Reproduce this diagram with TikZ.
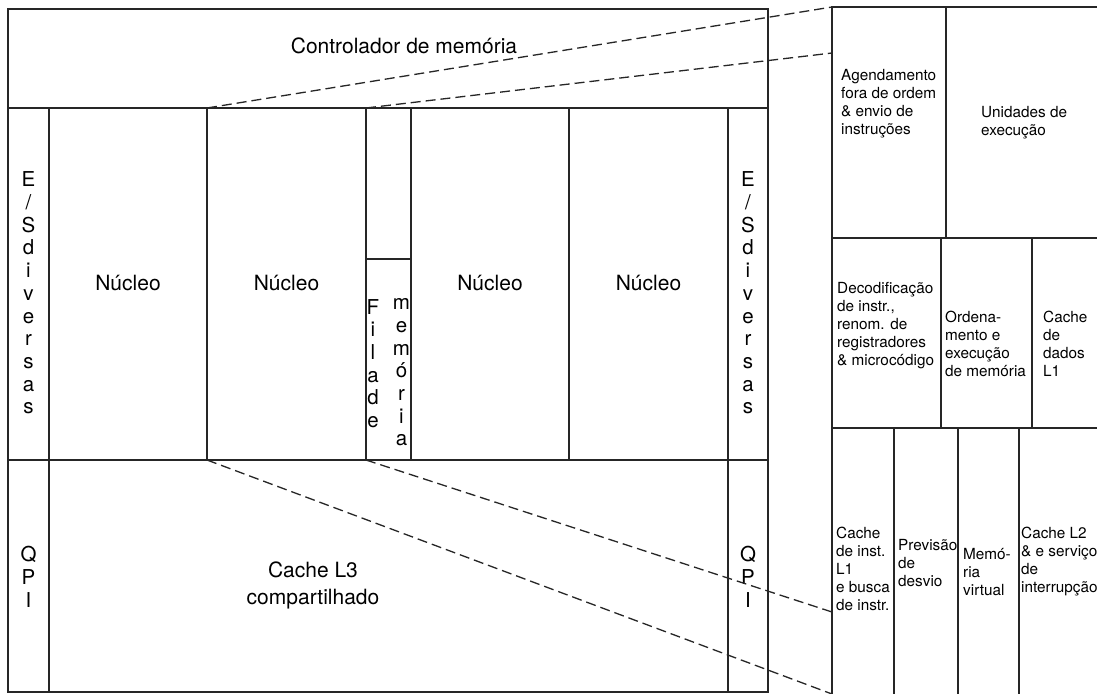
\documentclass[tikz,border=0pt]{standalone}
\usepackage{fontspec}
\setmainfont{TeX Gyre Heros}
\begin{document}
\begin{tikzpicture}[x=1pt,y=-1pt,
  box/.style={draw=black!85, line width=1.3pt, inner sep=0pt, outer sep=0pt, anchor=north west},
  big/.style={font=\fontsize{21}{27}\selectfont, inner sep=0pt, align=center},
  stack/.style={font=\fontsize{20.5}{22.7}\selectfont, inner sep=0pt, align=center},
  small/.style={font=\fontsize{15.3}{18}\selectfont, inner sep=0pt, align=left, anchor=west},
  dashline/.style={draw=black!85, line width=1.3pt, dash pattern=on 10pt off 5pt}]
\clip (0,0) rectangle (1097,693);
\fill[white] (0,0) rectangle (1097,693);
% die
\node[box, minimum width=760pt, minimum height=99pt] (ctrl) at (8,9) {};
\node[box, minimum width=41pt, minimum height=352pt] (es1) at (8,108) {};
\node[box, minimum width=158pt, minimum height=352pt] (core1) at (49,108) {};
\node[box, minimum width=159pt, minimum height=352pt] (core2) at (207,108) {};
\node[box, minimum width=45pt, minimum height=151pt] (filatop) at (366,108) {};
\node[box, minimum width=45pt, minimum height=201pt] (fila) at (366,259) {};
\node[box, minimum width=158pt, minimum height=352pt] (core3) at (411,108) {};
\node[box, minimum width=159pt, minimum height=352pt] (core4) at (569,108) {};
\node[box, minimum width=40pt, minimum height=352pt] (es2) at (728,108) {};
\node[box, minimum width=41pt, minimum height=232pt] (qpi1) at (8,460) {};
\node[box, minimum width=679pt, minimum height=232pt] (l3) at (49,460) {};
\node[box, minimum width=40pt, minimum height=232pt] (qpi2) at (728,460) {};
% core detail panel
\node[box, minimum width=114pt, minimum height=231pt] (agend) at (832,7) {};
\node[box, minimum width=170pt, minimum height=231pt] (unid) at (946,7) {};
\node[box, minimum width=109pt, minimum height=190pt] (decod) at (832,238) {};
\node[box, minimum width=91pt, minimum height=190pt] (orden) at (941,238) {};
\node[box, minimum width=90pt, minimum height=190pt] (dl1) at (1032,238) {};
\node[box, minimum width=62pt, minimum height=280pt] (il1) at (832,428) {};
\node[box, minimum width=64pt, minimum height=280pt] (prev) at (894,428) {};
\node[box, minimum width=61pt, minimum height=280pt] (memv) at (958,428) {};
\node[box, minimum width=100pt, minimum height=280pt] (l2) at (1019,428) {};
% texts
\node[big, anchor=base] (tctrl) at (404,53) {Controlador de memória};
\node[stack] (tes1) at (28.5,293) {E\\/\\S\\d\\i\\v\\e\\r\\s\\a\\s};
\node[stack] (tes2) at (748,293) {E\\/\\S\\d\\i\\v\\e\\r\\s\\a\\s};
\node[big] (tc1) at (128,283) {Núcleo};
\node[big] (tc2) at (286.5,283) {Núcleo};
\node[big] (tc3) at (490,283) {Núcleo};
\node[big] (tc4) at (648.5,283) {Núcleo};
\node[stack] (tfila) at (373,363.5) {F\\i\\l\\a\\d\\e};
\node[stack] (tmem) at (401.5,372.5) {m\\e\\m\\ó\\r\\i\\a};
\node[stack] (tq1) at (28.5,577) {Q\\P\\I};
\node[stack] (tq2) at (748,577) {Q\\P\\I};
\node[big] (tl3) at (313,585) {Cache L3\\compartilhado};
\node[small] (tagend) at (841,104) {Agendamento\\fora de ordem\\\& envio de\\instruções};
\node[small] (tunid) at (981,123) {Unidades de\\execução};
\node[small] (tdecod) at (837,326) {Decodificação\\de instr.,\\renom. de\\registradores\\\& microcódigo};
\node[small] (torden) at (945,343.5) {Ordena-\\mento e\\execução\\de memória};
\node[small] (tdl1) at (1043,343.5) {Cache\\de\\dados\\L1};
\node[small] (til1) at (836,568.5) {Cache\\de inst.\\L1\\e busca\\de instr.};
\node[small] (tprev) at (898,563) {Previsão\\de\\desvio};
\node[small] (tmemv) at (963,572) {Memó-\\ria\\virtual};
\node[small] (tl2) at (1021,562) {Cache L2\\\& e serviço\\de\\interrupção};
% zoom lines
\coordinate (p2) at (832,53);
\coordinate (p3) at (832,612);
\coordinate (p4) at (832,694);
\draw[dashline] (core2.north west) -- (agend.north west);
\draw[dashline] (filatop.north west) -- (p2);
\draw[dashline] (fila.south west) -- (p3);
\draw[dashline] (core2.south west) -- (p4);
\end{tikzpicture}
\end{document}
